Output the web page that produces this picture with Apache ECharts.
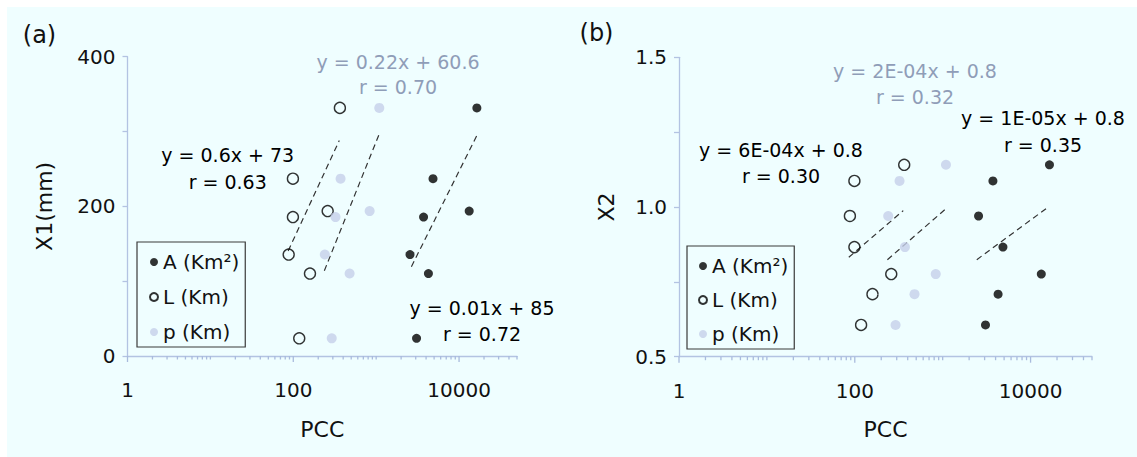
<!DOCTYPE html>
<html>
<head>
<meta charset="utf-8">
<script src="https://cdn.jsdelivr.net/npm/echarts@6/dist/echarts.min.js"></script>
<style>
  html, body { margin: 0; padding: 0; background: #ffffff; }
  #wrap { position: relative; width: 1137px; height: 457px; background: #ffffff; }
  #bg { position: absolute; left: 7px; top: 7px; right: 0; bottom: 0; background: #effeff; }
  #chart { position: absolute; left: 0; top: 0; width: 1137px; height: 457px; }
</style>
</head>
<body>
<div id="wrap"><div id="bg"></div><div id="chart"></div></div>
<script>
// ---- data ----
const seriesNames = ['A (Km\u00B2)', 'L (Km)', 'p (Km)'];
// PCC values per basin (7 basins)
const pccA = [16400, 4850, 3730, 13250, 2560, 4270, 3070];
const pccL = [365, 99, 99, 260, 88, 159, 118];
const pccP = [1090, 372, 323, 834, 240, 478, 291];
// response variables per basin
const x1 = [331.6, 237, 185.7, 193.7, 135.6, 110.2, 23.6];
const x2 = [1.141, 0.866, 1.087, 0.776, 0.970, 0.709, 0.606];
// fitted trend line end points [PCC, value]
const trendA_X1 = [[2660, 119.4], [16360, 294.5]];
const trendL_X1 = [[86.8, 140.4], [359, 288]];
const trendP_X1 = [[237, 114], [1078, 295.5]];
const trendA_X2 = [[2443, 0.824], [16260, 1.002]];
const trendL_X2 = [[85.5, 0.832], [356, 0.988]];
const trendP_X2 = [[235, 0.824], [1057, 0.991]];
// axis ticks
const xMajorTicks = [1, 100, 10000];
const xMinorTicks = [2, 3, 4, 5, 6, 7, 8, 9, 10, 20, 30, 40, 50, 60, 70, 80, 90,
  200, 300, 400, 500, 600, 700, 800, 900, 1000, 2000, 3000, 4000, 5000, 6000, 7000, 8000, 9000,
  20000, 30000, 40000, 50000];
const y1Labels = [0, 200, 400];
const y2Labels = [0.5, 1.0, 1.5];
// equations
const eqLeft = [
  { t1: 'y = 0.6x + 73', t2: 'r = 0.63', color: '#000000' },
  { t1: 'y = 0.22x + 60.6', t2: 'r = 0.70', color: '#8f9db8' },
  { t1: 'y = 0.01x + 85', t2: 'r = 0.72', color: '#000000' }
];
const eqRight = [
  { t1: 'y = 6E-04x + 0.8', t2: 'r = 0.30', color: '#000000' },
  { t1: 'y = 2E-04x + 0.8', t2: 'r = 0.32', color: '#8f9db8' },
  { t1: 'y = 1E-05x + 0.8', t2: 'r = 0.35', color: '#000000' }
];

// ---- styling / layout ----
const FONT = 'DejaVu Sans';
const AX = '#b3c3e2';
const TICK = '#a9bbdd';
const TXT = '#111111';
const colA = '#000000', colP = '#c5cfea';
const grids = [
  { left: 127.5, top: 56.7, width: 389.5, height: 299.3 },
  { left: 679, top: 57.3, width: 413, height: 299.4 }
];

function zip(xs, ys) { return xs.map((x, i) => [x, ys[i]]); }

function xAxis(gridIndex) {
  return {
    type: 'log', logBase: 10, min: 1, max: 50000, gridIndex, position: 'bottom',
    name: 'PCC', nameLocation: 'middle', nameGap: 62,
    nameTextStyle: { fontFamily: FONT, fontSize: 22, color: TXT },
    axisLine: { show: true, onZero: false, lineStyle: { color: AX, width: 1.3 } },
    axisTick: { show: false },
    axisLabel: { show: true, customValues: xMajorTicks, margin: 24, fontFamily: FONT, fontSize: 20, color: TXT,
      formatter: v => String(Math.round(v)) },
    splitLine: { show: false }, minorTick: { show: false }
  };
}

function yAxis(gridIndex, name, min, max, interval, labels, gap, fmt) {
  return {
    type: 'value', gridIndex, min, max, interval,
    name, nameLocation: 'middle', nameGap: gap, nameRotate: 90,
    nameTextStyle: { fontFamily: FONT, fontSize: 22, color: TXT },
    axisLine: { show: true, lineStyle: { color: AX, width: 1.3 } },
    axisTick: { show: true, length: 5, lineStyle: { color: AX, width: 1.3 } },
    axisLabel: { fontFamily: FONT, fontSize: 20, color: TXT, margin: 12,
      formatter: v => labels.some(l => Math.abs(l - v) < 1e-9) ? fmt(v) : '' },
    splitLine: { show: false }
  };
}

// x-axis tick marks (log minor/major ticks), placed through the axis scale
function tickSeries(idx, values, yBase, len) {
  return {
    type: 'custom', xAxisIndex: idx, yAxisIndex: idx, clip: false, silent: true, z: 5,
    data: values.map(v => [v, yBase]),
    renderItem: (params, api) => {
      const p = api.coord([api.value(0), api.value(1)]);
      return { type: 'line', shape: { x1: p[0], y1: p[1], x2: p[0], y2: p[1] + len },
        style: { stroke: TICK, lineWidth: 1.3 } };
    }
  };
}

function scatter(name, idx, xs, ys, style, size) {
  return {
    type: 'scatter', name, xAxisIndex: idx, yAxisIndex: idx,
    data: zip(xs, ys), symbol: 'circle', symbolSize: size,
    itemStyle: style, z: 3
  };
}
function trend(idx, pts) {
  return {
    type: 'line', xAxisIndex: idx, yAxisIndex: idx, data: pts, symbol: 'none',
    lineStyle: { color: '#333333', width: 1.2, type: [6, 4] }, z: 2, silent: true
  };
}

const styleA = { color: colA };
const styleL = { color: 'rgba(0,0,0,0)', borderColor: '#000000', borderWidth: 1.4 };
const styleP = { color: colP };

function eqTexts(list, pos) {
  const out = [];
  list.forEach((e, i) => {
    const p = pos[i];
    out.push({ type: 'text', x: p[0], y: p[1], style: { text: e.t1, fill: e.color, font: '19px "' + FONT + '"', align: 'center', verticalAlign: 'middle' } });
    out.push({ type: 'text', x: p[0], y: p[2], style: { text: e.t2, fill: e.color, font: '19px "' + FONT + '"', align: 'center', verticalAlign: 'middle' } });
  });
  return out;
}

function legend(left, top, gap, pad) {
  return {
    orient: 'vertical', left, top, itemGap: gap, itemWidth: 8, itemHeight: 8,
    padding: pad, borderColor: '#3a3a3a', borderWidth: 1.2, backgroundColor: 'transparent',
    icon: 'circle', selectedMode: false,
    textStyle: { fontFamily: FONT, fontSize: 20, color: TXT, lineHeight: 20 },
    data: seriesNames
  };
}

const option = {
  backgroundColor: 'transparent',
  animation: false,
  grid: grids,
  xAxis: [xAxis(0), xAxis(1)],
  yAxis: [
    yAxis(0, 'X1(mm)', 0, 400, 100, y1Labels, 72, v => String(v)),
    yAxis(1, 'X2', 0.5, 1.5, 0.25, y2Labels, 62, v => v.toFixed(1))
  ],
  legend: [
    legend(137, 242, 15, [10, 6, 5, 12]),
    legend(687, 246, 14, [10, 6, 5, 11])
  ],
  series: [
    tickSeries(0, xMinorTicks, 0, 3.5), tickSeries(0, xMajorTicks, 0, 6),
    scatter(seriesNames[0], 0, pccA, x1, styleA, 9),
    scatter(seriesNames[1], 0, pccL, x1, styleL, 11),
    scatter(seriesNames[2], 0, pccP, x1, styleP, 10),
    trend(0, trendA_X1), trend(0, trendL_X1), trend(0, trendP_X1),
    tickSeries(1, xMinorTicks, 0.5, 3.5), tickSeries(1, xMajorTicks, 0.5, 6),
    scatter(seriesNames[0], 1, pccA, x2, styleA, 9),
    scatter(seriesNames[1], 1, pccL, x2, styleL, 11),
    scatter(seriesNames[2], 1, pccP, x2, styleP, 10),
    trend(1, trendA_X2), trend(1, trendL_X2), trend(1, trendP_X2)
  ],
  graphic: {
    elements: [
      { type: 'text', x: 39.5, y: 35, style: { text: '(a)', fill: TXT, font: '24px "' + FONT + '"', align: 'center', verticalAlign: 'middle' } },
      { type: 'text', x: 596.5, y: 33, style: { text: '(b)', fill: TXT, font: '24px "' + FONT + '"', align: 'center', verticalAlign: 'middle' } },
      ...eqTexts(eqLeft, [[227.7, 155, 181.7], [398, 61.7, 87.3], [482, 308, 334]]),
      ...eqTexts(eqRight, [[781, 150, 176], [915, 71, 96.7], [1043, 118, 145]])
    ]
  }
};

const chart = echarts.init(document.getElementById('chart'), null, { renderer: 'svg' });
chart.setOption(option);
</script>
</body>
</html>
